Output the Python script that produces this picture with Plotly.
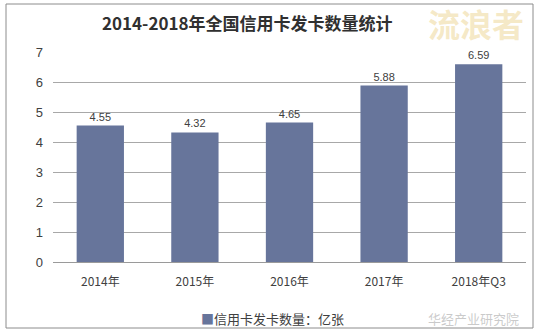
import plotly.graph_objects as go

categories = ["2014年", "2015年", "2016年", "2017年", "2018年Q3"]
values = [4.55, 4.32, 4.65, 5.88, 6.59]
series_name = "信用卡发卡数量：亿张"
y_ticks = [0, 1, 2, 3, 4, 5, 6, 7]
bar_color = "#67759b"

W, H = 539, 336
L, R, T, B = 53, 13, 52, 74
pw, ph = W - L - R, H - T - B


def px(x):
    return (x - L) / pw


def py(y):
    return (H - B - y) / ph


fig = go.Figure()
fig.add_trace(go.Bar(
    x=categories, y=values, name=series_name,
    marker=dict(color=bar_color, line=dict(width=0)),
    text=[f"{v:.2f}" for v in values], textposition="outside",
    textfont=dict(size=11, color="#404040", family="Liberation Sans, Arial"),
    cliponaxis=False,
))

fig.update_layout(
    width=W, height=H,
    margin=dict(l=L, r=R, t=T, b=B, autoexpand=False),
    paper_bgcolor="white", plot_bgcolor="white",
    bargap=0.5,
    showlegend=False,
    title=dict(text="<b>2014-2018年全国信用卡发卡数量统计</b>", x=px(270), xanchor="center",
               y=1 - 24 / H, yanchor="middle",
               font=dict(size=17, color="#303030", family="Noto Sans CJK SC")),
    xaxis=dict(showline=True, linecolor="#9a9a9a", linewidth=1, ticks="", automargin=False,
               ticklabelstandoff=9,
               tickfont=dict(size=12, color="#404040", family="Noto Sans CJK SC")),
    yaxis=dict(range=[0, 7], tickvals=y_ticks, showgrid=True, gridcolor="#a8a8a8",
               gridwidth=1, zeroline=False, ticks="", automargin=False,
               ticklabelstandoff=9,
               tickfont=dict(size=13, color="#404040", family="Liberation Sans, Arial")),
    shapes=[dict(type="rect", xref="paper", yref="paper",
                 x0=px(6), x1=px(533), y0=py(328), y1=py(4),
                 line=dict(color="#8c8c8c", width=1), fillcolor="rgba(0,0,0,0)", layer="below")],
    annotations=[
        dict(text=f"<span style='color:{bar_color}'>■</span>{series_name}",
             xref="paper", yref="paper", x=px(199), y=py(318),
             xanchor="left", yanchor="middle", showarrow=False,
             font=dict(size=13, color="#404040", family="Noto Sans CJK SC")),
        dict(text="<b>流浪者</b>", xref="paper", yref="paper", x=px(476), y=py(23),
             xanchor="center", yanchor="middle", showarrow=False,
             font=dict(size=32, color="rgba(238,214,150,0.55)", family="Noto Sans CJK SC")),
        dict(text="华经产业研究院", xref="paper", yref="paper", x=px(426), y=py(318),
             xanchor="left", yanchor="middle", showarrow=False,
             font=dict(size=13, color="rgba(150,150,150,0.5)", family="Noto Sans CJK SC")),
    ],
)

fig.write_html("out.html")
